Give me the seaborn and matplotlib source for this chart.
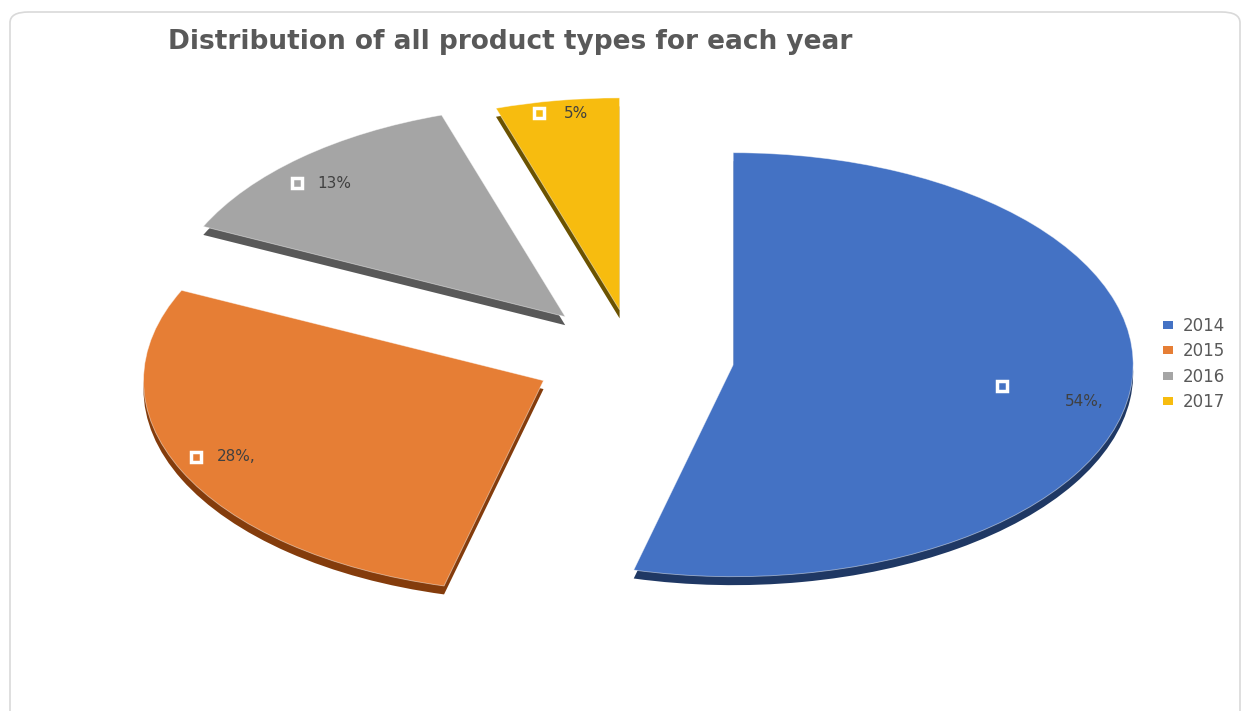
import numpy as np
import matplotlib.pyplot as plt
import seaborn as sns
from matplotlib.patches import Patch, FancyBboxPatch

years = ['2014', '2015', '2016', '2017']
shares = [54, 28, 13, 5]
pct_labels = ['54%,', '28%,', '13%', '5%']
colors = ['#4472C4', '#E67E35', '#A5A5A5', '#F7BC0F']
dark_colors = ['#1F3864', '#843C0C', '#595959', '#6B5200']
explode = [0.25, 0.25, 0.26, 0.23]
label_dist = [0.68, 0.94, 0.92, 0.95]
label_turn = [-1.2, -2.7, 5.4, 3.3]

sns.set_theme(style='white')
plt.rcParams['font.family'] = ['DejaVu Sans']

fig = plt.figure(figsize=(12.47, 7.11), dpi=100)
ax = fig.add_axes([0, 0, 1, 1])

# chart border
fig.patches.append(FancyBboxPatch((10 / 1247, -0.05), 1230 / 1247, 1.05 - 12 / 711,
                                  boxstyle='round,pad=0,rounding_size=0.015',
                                  transform=fig.transFigure, facecolor='none',
                                  edgecolor='#D9D9D9', lw=1.2, zorder=0))

# depth (3D side) then the top face
ax.pie(shares, explode=explode, colors=dark_colors, startangle=90, counterclock=False,
       center=(0, -0.04), wedgeprops=dict(linewidth=0))
wedges, _ = ax.pie(shares, explode=explode, colors=colors, startangle=90, counterclock=False,
                   wedgeprops=dict(linewidth=0.6, edgecolor=(1, 1, 1, 0.5)))

ax.set_xlim(-1.585, 1.5325)
ax.set_ylim(-1.665, 1.689)
ax.set_aspect('auto')
ax.axis('off')

offsets = [(45, -11.5), (15, 0), (15, 0), (18, 0)]
for w, d, turn, txt, col, off in zip(wedges, label_dist, label_turn, pct_labels, colors, offsets):
    th = np.deg2rad((w.theta1 + w.theta2) / 2 + turn)
    cx, cy = w.center
    x = cx + d * w.r * np.cos(th)
    y = cy + d * w.r * np.sin(th)
    ax.plot(x, y, marker='s', markersize=7, markerfacecolor=col,
            markeredgecolor='white', markeredgewidth=2.5, zorder=5)
    ax.annotate(txt, (x, y), xytext=off, textcoords='offset points',
                ha='left', va='center', fontsize=11, color='#404040', zorder=5)

fig.text(168 / 1247, 1 - 42 / 711, 'Distribution of all product types for each year',
         ha='left', va='center', fontsize=19, fontweight='bold', color='#595959')

handles = [Patch(facecolor=c, edgecolor='none') for c in colors]
fig.legend(handles, years, loc='center left', bbox_to_anchor=(1148 / 1247, 1 - 364 / 711),
           frameon=False, fontsize=12, labelcolor='#595959', handlelength=0.6,
           handleheight=0.35, handletextpad=0.6, labelspacing=0.45)

fig.savefig('out.png', dpi=100)
